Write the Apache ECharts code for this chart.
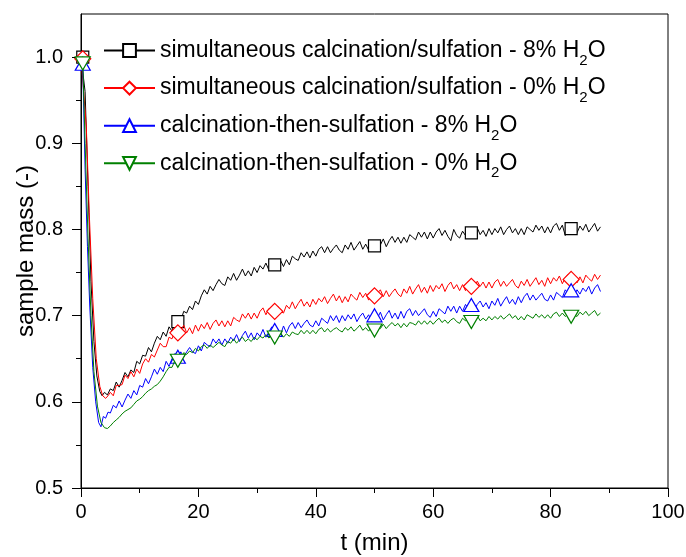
<!DOCTYPE html>
<html><head><meta charset="utf-8">
<script src="https://cdn.jsdelivr.net/npm/echarts@6/dist/echarts.min.js"></script>
<style>html,body{margin:0;padding:0;background:#fff}#c{width:686px;height:557px}</style>
</head><body><div id="c"></div>
<script>
// ---- data ----
const seriesNames = [
  'simultaneous calcination/sulfation - 8% H2O',
  'simultaneous calcination/sulfation - 0% H2O',
  'calcination-then-sulfation - 8% H2O',
  'calcination-then-sulfation - 0% H2O'
];
const xTicks = [0, 20, 40, 60, 80, 100];
const yTicks = [0.5, 0.6, 0.7, 0.8, 0.9, 1.0];
const yMinorTicks = [0.55, 0.65, 0.75, 0.85, 0.95];
const markerTimes = [0.3, 16.5, 33, 50, 66.5, 83.5];

// initial fast mass drop (t, mass)
const blackDrop = [[0,1.0],[0.3,1.0],[0.7,0.96],[1.2,0.85],[1.7,0.74],[2.2,0.67],[2.7,0.63],[3.2,0.612],[3.6,0.607],[4.0,0.611],[4.5,0.608]];
const redDrop   = [[0,1.0],[0.3,0.998],[0.9,0.92],[1.4,0.82],[2.0,0.72],[2.6,0.65],[3.2,0.618],[3.7,0.607],[4.2,0.604],[4.6,0.607]];
const blueDrop  = [[0,1.0],[0.3,0.99],[0.7,0.87],[1.1,0.78],[1.5,0.71],[2.0,0.64],[2.5,0.60],[3.0,0.576],[3.4,0.571],[3.8,0.583],[4.2,0.581],[4.6,0.588]];
const greenDrop = [[0,1.0],[0.3,0.995],[0.7,0.90],[1.2,0.79],[1.7,0.70],[2.2,0.635],[2.8,0.595],[3.4,0.576],[4.0,0.570],[4.5,0.569]];

// sulfation stage, sampled every 0.5 min from t = 5.0 min
const T0 = 5.0, DT = 0.5;
const blackMass = [
0.615,0.613,0.623,0.617,0.625,0.634,0.629,0.637,0.634,0.647,
0.644,0.654,0.653,0.663,0.658,0.668,0.676,0.672,0.681,0.676,
0.687,0.682,0.694,0.693,0.694,0.705,0.703,0.711,0.707,0.717,
0.713,0.723,0.730,0.725,0.734,0.729,0.736,0.742,0.737,0.735,
0.745,0.741,0.749,0.741,0.747,0.754,0.746,0.752,0.746,0.756,
0.750,0.758,0.754,0.761,0.753,0.760,0.759,0.758,0.764,0.757,
0.765,0.759,0.769,0.766,0.764,0.773,0.768,0.774,0.767,0.775,
0.769,0.777,0.780,0.773,0.780,0.773,0.778,0.782,0.776,0.773,
0.782,0.777,0.785,0.776,0.781,0.786,0.777,0.783,0.776,0.785,
0.781,0.786,0.782,0.789,0.780,0.787,0.792,0.785,0.791,0.784,
0.791,0.785,0.794,0.791,0.788,0.797,0.791,0.797,0.789,0.797,
0.790,0.797,0.801,0.793,0.799,0.792,0.787,0.800,0.793,0.790,
0.798,0.793,0.800,0.796,0.797,0.802,0.794,0.799,0.792,0.801,
0.794,0.801,0.796,0.803,0.794,0.800,0.804,0.796,0.801,0.794,
0.801,0.794,0.803,0.800,0.797,0.805,0.799,0.804,0.796,0.803,
0.796,0.804,0.807,0.799,0.805,0.793,0.802,0.801,0.799,0.796,
0.804,0.799,0.806,0.797,0.802,0.807,0.798,0.803];
const redMass = [
0.611,0.607,0.619,0.619,0.620,0.631,0.627,0.635,0.629,0.638,
0.633,0.644,0.650,0.646,0.655,0.652,0.660,0.668,0.664,0.664,
0.675,0.673,0.683,0.680,0.683,0.689,0.680,0.686,0.679,0.689,
0.682,0.690,0.685,0.692,0.684,0.691,0.695,0.688,0.694,0.687,
0.694,0.688,0.698,0.695,0.693,0.702,0.697,0.703,0.696,0.703,
0.697,0.705,0.709,0.701,0.708,0.702,0.705,0.711,0.705,0.703,
0.712,0.708,0.716,0.708,0.714,0.719,0.711,0.716,0.710,0.719,
0.713,0.720,0.716,0.722,0.714,0.720,0.725,0.717,0.723,0.715,
0.722,0.716,0.725,0.721,0.718,0.727,0.721,0.726,0.718,0.725,
0.723,0.726,0.730,0.722,0.729,0.722,0.727,0.731,0.725,0.722,
0.731,0.726,0.734,0.725,0.731,0.736,0.727,0.733,0.726,0.735,
0.728,0.735,0.731,0.737,0.728,0.735,0.739,0.731,0.736,0.729,
0.736,0.729,0.738,0.734,0.732,0.740,0.734,0.739,0.732,0.739,
0.732,0.739,0.742,0.734,0.740,0.734,0.738,0.742,0.735,0.732,
0.740,0.735,0.742,0.734,0.739,0.744,0.736,0.741,0.734,0.744,
0.737,0.744,0.740,0.746,0.737,0.744,0.748,0.742,0.746,0.738,
0.745,0.738,0.747,0.743,0.740,0.748,0.742,0.747];
const blueMass = [
0.587,0.596,0.593,0.601,0.594,0.602,0.609,0.604,0.613,0.608,
0.619,0.617,0.627,0.621,0.629,0.638,0.632,0.640,0.635,0.647,
0.641,0.650,0.656,0.650,0.658,0.652,0.658,0.663,0.658,0.656,
0.665,0.659,0.669,0.666,0.664,0.673,0.668,0.673,0.666,0.673,
0.668,0.675,0.671,0.678,0.670,0.677,0.682,0.674,0.680,0.672,
0.680,0.676,0.684,0.675,0.681,0.687,0.681,0.684,0.678,0.688,
0.680,0.688,0.692,0.685,0.692,0.686,0.691,0.695,0.689,0.687,
0.694,0.688,0.697,0.694,0.691,0.700,0.694,0.700,0.692,0.700,
0.694,0.701,0.696,0.702,0.693,0.699,0.703,0.696,0.701,0.693,
0.698,0.697,0.704,0.695,0.701,0.706,0.697,0.703,0.696,0.705,
0.697,0.705,0.708,0.700,0.706,0.700,0.704,0.708,0.701,0.698,
0.705,0.699,0.708,0.705,0.702,0.711,0.705,0.711,0.703,0.711,
0.705,0.713,0.708,0.710,0.706,0.713,0.717,0.710,0.715,0.708,
0.717,0.712,0.720,0.711,0.717,0.722,0.714,0.719,0.713,0.722,
0.715,0.722,0.726,0.718,0.724,0.718,0.722,0.726,0.719,0.717,
0.724,0.718,0.727,0.724,0.721,0.730,0.725,0.727,0.723,0.730,
0.725,0.732,0.728,0.734,0.725,0.732,0.736,0.728];
const greenMass = [
0.572,0.576,0.579,0.582,0.586,0.589,0.591,0.593,0.597,0.601,
0.603,0.606,0.610,0.613,0.615,0.618,0.620,0.624,0.629,0.635,
0.640,0.640,0.648,0.650,0.650,0.657,0.655,0.659,0.657,0.662,
0.659,0.664,0.666,0.662,0.666,0.663,0.666,0.669,0.666,0.664,
0.670,0.668,0.673,0.668,0.672,0.675,0.670,0.673,0.670,0.675,
0.672,0.676,0.674,0.678,0.674,0.677,0.677,0.676,0.680,0.675,
0.679,0.676,0.681,0.679,0.678,0.683,0.679,0.683,0.679,0.683,
0.679,0.684,0.686,0.681,0.685,0.681,0.684,0.686,0.683,0.681,
0.686,0.683,0.687,0.682,0.685,0.689,0.683,0.686,0.682,0.687,
0.685,0.688,0.685,0.690,0.685,0.689,0.692,0.688,0.691,0.686,
0.691,0.687,0.692,0.691,0.689,0.694,0.690,0.694,0.690,0.694,
0.690,0.694,0.697,0.692,0.695,0.691,0.695,0.697,0.693,0.691,
0.697,0.694,0.698,0.695,0.697,0.700,0.694,0.697,0.694,0.699,
0.695,0.699,0.696,0.700,0.696,0.699,0.702,0.697,0.700,0.695,
0.699,0.695,0.701,0.699,0.697,0.702,0.698,0.701,0.697,0.701,
0.697,0.702,0.704,0.699,0.703,0.699,0.702,0.701,0.701,0.699,
0.704,0.701,0.705,0.700,0.703,0.706,0.700,0.703];

// ---- styling ----
const colors = ['#000000', '#ff0000', '#0000ff', '#008000'];
const symbols = ['rect', 'diamond', 'triangle', 'path://M0,0 L10,0 L5,8.66 Z'];
const symbolSizes = [[12,12], [16,16], [15,13], [15,13]];
const symbolOffsets = [[0,0], [0,0], [0,-2], [0,2]];
const drops = [blackDrop, redDrop, blueDrop, greenDrop];
const masses = [blackMass, redMass, blueMass, greenMass];
const FONT = 'Liberation Sans';

function buildData(k) {
  const pts = drops[k].slice();
  masses[k].forEach((v, i) => pts.push([+(T0 + i * DT).toFixed(2), v]));
  return pts.map(p => {
    const isMarker = markerTimes.some(m => Math.abs(m - p[0]) < 1e-6);
    return { value: p, symbol: isMarker ? symbols[k] : 'none' };
  });
}

const series = seriesNames.map((name, k) => ({
  name: name,
  type: 'line',
  data: buildData(k),
  symbol: symbols[k],
  symbolSize: symbolSizes[k],
  symbolOffset: symbolOffsets[k],
  showSymbol: true,
  showAllSymbol: true,
  animation: false,
  lineStyle: { color: colors[k], width: 1 },
  itemStyle: { color: '#ffffff', borderColor: colors[k], borderWidth: 1.2 },
  emphasis: { disabled: true },
  z: 2 + k
}));

const chart = echarts.init(document.getElementById('c'), null, { renderer: 'canvas' });
chart.setOption({
  backgroundColor: '#ffffff',
  animation: false,
  grid: { left: 81, right: 18, top: 14, bottom: 69, containLabel: false, outerBoundsMode: 'none',
          show: true, borderColor: '#000', borderWidth: 1, backgroundColor: 'transparent' },
  legend: {
    orient: 'vertical', left: 103, top: 39, padding: 0, itemWidth: 51, itemHeight: 16, itemGap: 8.6,
    data: seriesNames,
    formatter: n => '{a|' + n.replace('H2O', 'H') + '}{s|2}{a|O}',
    textStyle: {
      color: '#000', fontFamily: FONT, fontSize: 23,
      rich: {
        a: { fontFamily: FONT, fontSize: 23, color: '#000' },
        s: { fontFamily: FONT, fontSize: 15, color: '#000', padding: [20, 0, 0, 0] }
      }
    },
    selectedMode: false
  },
  xAxis: {
    type: 'value', min: 0, max: 100, interval: 20,
    name: 't (min)', nameLocation: 'middle', nameGap: 43, nameMoveOverlap: false,
    nameTextStyle: { fontFamily: FONT, fontSize: 24, color: '#000' },
    axisLine: { show: true, lineStyle: { color: '#000', width: 1 } },
    axisTick: { show: true, length: 9, inside: false, lineStyle: { color: '#000' } },
    minorTick: { show: true, splitNumber: 2, length: 5, lineStyle: { color: '#000' } },
    axisLabel: { fontFamily: FONT, fontSize: 20, color: '#000', margin: 14, formatter: v => String(v) },
    splitLine: { show: false }
  },
  yAxis: [{
    type: 'value', min: 0.5, max: 1.05, interval: 0.1,
    name: 'sample mass (-)', nameLocation: 'middle', nameGap: 43, nameMoveOverlap: false,
    nameTextStyle: { fontFamily: FONT, fontSize: 24, color: '#000' },
    axisLine: { show: true, lineStyle: { color: '#000', width: 1 } },
    axisTick: { show: true, length: 9, customValues: yTicks, lineStyle: { color: '#000' } },
    axisLabel: { fontFamily: FONT, fontSize: 20, color: '#000', margin: 18, customValues: yTicks, formatter: v => v.toFixed(1) },
    splitLine: { show: false }
  }, {
    type: 'value', min: 0.5, max: 1.05, position: 'left', offset: 0,
    axisLine: { show: false },
    axisTick: { show: true, length: 5, customValues: yMinorTicks, lineStyle: { color: '#000' } },
    axisLabel: { show: false },
    splitLine: { show: false }
  }],
  series: series
});
</script></body></html>
